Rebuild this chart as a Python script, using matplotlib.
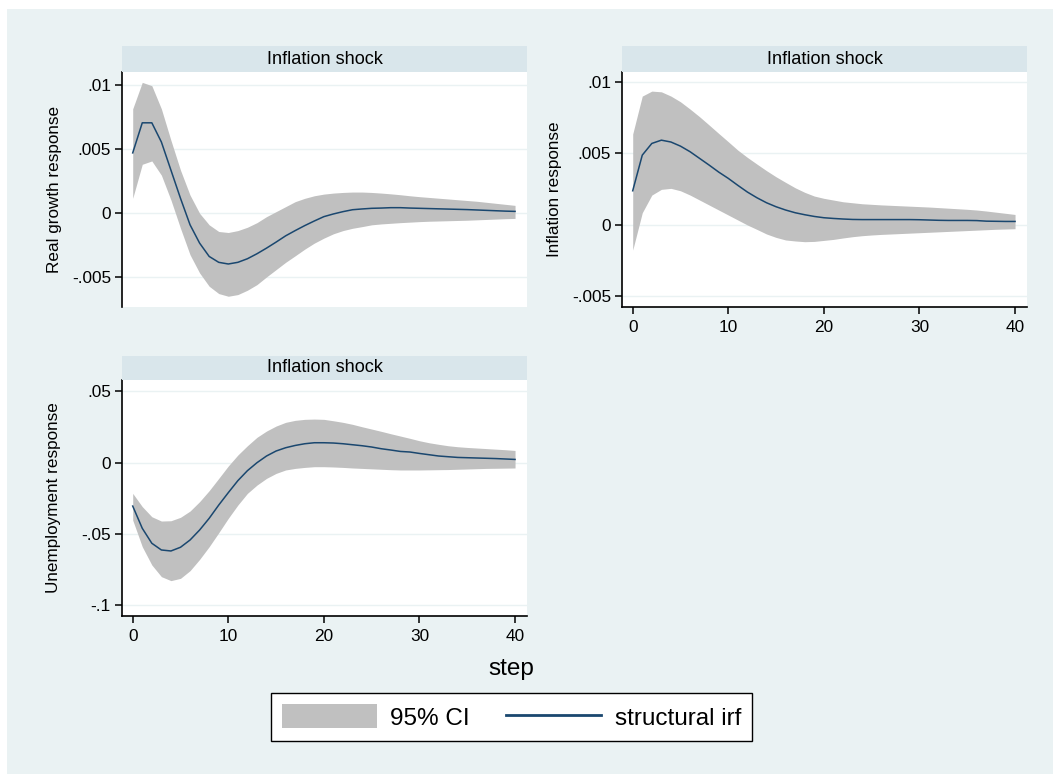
import matplotlib
matplotlib.use("Agg")
import matplotlib.pyplot as plt
from matplotlib.patches import Rectangle, Patch
from matplotlib.lines import Line2D
import numpy as np

plt.rcParams['font.family'] = ['Liberation Sans', 'DejaVu Sans']

# irf data (steps 0..40)
steps = list(range(41))

growth_irf = [0.00472, 0.00707, 0.00707, 0.00557, 0.00337, 0.00117, -0.00090, -0.00233, -0.00337, -0.00383,
              -0.00396, -0.00383, -0.00355, -0.00316, -0.00272, -0.00225, -0.00176, -0.00135, -0.00096, -0.00060,
              -0.00026, -0.00005, 0.00013, 0.00028, 0.00034, 0.00039, 0.00041, 0.00044, 0.00044, 0.00041,
              0.00039, 0.00037, 0.00035, 0.00033, 0.00031, 0.00029, 0.00026, 0.00023, 0.00020, 0.00017,
              0.00015]
growth_hi = [0.00816, 0.01023, 0.00997, 0.00816, 0.00570, 0.00337, 0.00142, 0.00000, -0.00090, -0.00142,
             -0.00150, -0.00135, -0.00109, -0.00073, -0.00026, 0.00013, 0.00052, 0.00091, 0.00117, 0.00137,
             0.00150, 0.00158, 0.00163, 0.00166, 0.00166, 0.00163, 0.00158, 0.00152, 0.00145, 0.00137,
             0.00130, 0.00124, 0.00118, 0.00112, 0.00106, 0.00100, 0.00094, 0.00086, 0.00078, 0.00070,
             0.00062]
growth_lo = [0.00117, 0.00383, 0.00409, 0.00298, 0.00104, -0.00117, -0.00324, -0.00466, -0.00570, -0.00627,
             -0.00648, -0.00635, -0.00601, -0.00557, -0.00497, -0.00440, -0.00383, -0.00332, -0.00280, -0.00233,
             -0.00194, -0.00160, -0.00135, -0.00117, -0.00104, -0.00090, -0.00083, -0.00078, -0.00073, -0.00069,
             -0.00065, -0.00062, -0.00060, -0.00058, -0.00056, -0.00054, -0.00051, -0.00048, -0.00045, -0.00042,
             -0.00040]

infl_irf = [0.00238, 0.00488, 0.00570, 0.00593, 0.00580, 0.00551, 0.00512, 0.00465, 0.00418, 0.00369,
            0.00325, 0.00276, 0.00229, 0.00189, 0.00154, 0.00126, 0.00103, 0.00084, 0.00070, 0.00058,
            0.00049, 0.00044, 0.00040, 0.00037, 0.00036, 0.00036, 0.00036, 0.00036, 0.00036, 0.00036,
            0.00035, 0.00033, 0.00031, 0.00030, 0.00030, 0.00030, 0.00029, 0.00025, 0.00024, 0.00023,
            0.00023]
infl_hi = [0.00636, 0.00902, 0.00937, 0.00932, 0.00902, 0.00862, 0.00811, 0.00757, 0.00699, 0.00640,
           0.00582, 0.00523, 0.00472, 0.00425, 0.00379, 0.00336, 0.00297, 0.00259, 0.00227, 0.00201,
           0.00185, 0.00173, 0.00161, 0.00154, 0.00147, 0.00143, 0.00139, 0.00136, 0.00133, 0.00130,
           0.00127, 0.00124, 0.00120, 0.00116, 0.00112, 0.00108, 0.00103, 0.00096, 0.00088, 0.00080,
           0.00072]
infl_lo = [-0.00178, 0.00084, 0.00208, 0.00248, 0.00255, 0.00238, 0.00208, 0.00173, 0.00138, 0.00103,
           0.00068, 0.00033, -0.00002, -0.00033, -0.00065, -0.00089, -0.00107, -0.00114, -0.00119, -0.00117,
           -0.00110, -0.00103, -0.00093, -0.00084, -0.00077, -0.00072, -0.00068, -0.00065, -0.00062, -0.00059,
           -0.00056, -0.00053, -0.00050, -0.00047, -0.00044, -0.00041, -0.00038, -0.00035, -0.00032, -0.00030,
           -0.00028]

unemp_irf = [-0.0304, -0.0460, -0.0565, -0.0612, -0.0619, -0.0593, -0.0542, -0.0472, -0.0390, -0.0297,
             -0.0210, -0.0126, -0.0056, 0.0000, 0.0047, 0.0082, 0.0105, 0.0121, 0.0133, 0.0140,
             0.0140, 0.0138, 0.0133, 0.0126, 0.0119, 0.0110, 0.0098, 0.0089, 0.0079, 0.0075,
             0.0065, 0.0056, 0.0047, 0.0042, 0.0037, 0.0035, 0.0033, 0.0031, 0.0029, 0.0026,
             0.0023]
unemp_hi = [-0.0215, -0.0308, -0.0379, -0.0409, -0.0407, -0.0383, -0.0339, -0.0273, -0.0196, -0.0110,
            -0.0023, 0.0054, 0.0119, 0.0178, 0.0222, 0.0257, 0.0283, 0.0297, 0.0304, 0.0306,
            0.0304, 0.0294, 0.0283, 0.0269, 0.0252, 0.0236, 0.0220, 0.0203, 0.0187, 0.0171,
            0.0154, 0.0140, 0.0129, 0.0119, 0.0112, 0.0107, 0.0103, 0.0099, 0.0095, 0.0091,
            0.0086]
unemp_lo = [-0.0402, -0.0589, -0.0717, -0.0799, -0.0827, -0.0811, -0.0757, -0.0678, -0.0589, -0.0491,
            -0.0390, -0.0297, -0.0215, -0.0157, -0.0110, -0.0075, -0.0051, -0.0040, -0.0033, -0.0028,
            -0.0028, -0.0030, -0.0033, -0.0037, -0.0040, -0.0043, -0.0046, -0.0049, -0.0051, -0.0051,
            -0.0051, -0.0050, -0.0049, -0.0048, -0.0046, -0.0044, -0.0042, -0.0040, -0.0039, -0.0038,
            -0.0037]

x_ticks = [0, 10, 20, 30, 40]
small_ticks = [-0.005, 0, 0.005, 0.01]
small_labels = ['-.005', '0', '.005', '.01']
unemp_ticks = [-0.1, -0.05, 0, 0.05]
unemp_labels = ['-.1', '-.05', '0', '.05']

BG = '#EAF2F3'
STRIP = '#D9E6EB'
BAND = '#C0C0C0'
LINE = '#1A476F'

W, H = 1053, 774
fig = plt.figure(figsize=(W / 100, H / 100), dpi=100)
fig.patch.set_facecolor('white')
fig.patches.append(Rectangle((7 / W, 0), 1, (H - 9) / H, transform=fig.transFigure,
                             facecolor=BG, edgecolor='none', zorder=-10))


def px_axes(l, t, r, b):
    return [l / W, 1 - b / H, (r - l) / W, (b - t) / H]


def panel(box, strip_top, lo, hi, irf, ylim, yticks, ylabels, ylabel, label_x, show_x):
    l, t, r, b = box
    ax = fig.add_axes(px_axes(l, t, r, b))
    ax.set_facecolor('white')
    ax.fill_between(steps, lo, hi, color=BAND, linewidth=0, zorder=2)
    ax.plot(steps, irf, color=LINE, linewidth=1.1, zorder=3)
    ax.set_xlim(-1.12, 41.25)
    ax.set_ylim(*ylim)
    ax.set_yticks(yticks)
    ax.set_yticklabels(ylabels)
    for v in yticks:
        ax.axhline(v, color=BG, linewidth=1.0, zorder=1)
    for s in ['top', 'right']:
        ax.spines[s].set_visible(False)
    ax.spines['left'].set_linewidth(1.2)
    ax.spines['bottom'].set_linewidth(1.2)
    ax.tick_params(axis='both', direction='out', length=5, width=1.1, labelsize=12.4, pad=3)
    if show_x:
        ax.set_xticks(x_ticks)
        ax.tick_params(axis='x', pad=4.5)
    else:
        ax.spines['bottom'].set_visible(False)
        ax.set_xticks([])
    # header strip
    sax = fig.add_axes(px_axes(l, strip_top, r, t))
    sax.set_facecolor(STRIP)
    sax.set_xticks([])
    sax.set_yticks([])
    for s in sax.spines.values():
        s.set_visible(False)
    sax.text(0.5, 0.5, 'Inflation shock', ha='center', va='center', fontsize=13.1,
             transform=sax.transAxes)
    fig.text(label_x / W, 1 - ((t + b) / 2) / H, ylabel, rotation=90, ha='center', va='center',
             fontsize=12.3)
    return ax


panel((122, 72, 527, 307), 46, growth_lo, growth_hi, growth_irf, (-0.00732, 0.01104),
      small_ticks, small_labels, 'Real growth response', 55, False)
panel((622, 72, 1027, 307), 46, infl_lo, infl_hi, infl_irf, (-0.00577, 0.01071),
      small_ticks, small_labels, 'Inflation response', 555, True)
panel((122, 380, 527, 616), 356, unemp_lo, unemp_hi, unemp_irf, (-0.1075, 0.058),
      unemp_ticks, unemp_labels, 'Unemployment response', 54, True)

fig.text(511.7 / W, 1 - 669 / H, 'step', ha='center', va='center', fontsize=17.5)

handles = [Patch(facecolor=BAND, edgecolor='none'),
           Line2D([0], [0], color=LINE, linewidth=2)]
leg = fig.legend(handles, ['95% CI', 'structural irf'], loc='center',
                 bbox_to_anchor=(511.5 / W, 1 - 717 / H), ncol=2, fontsize=17.5,
                 frameon=True, fancybox=False, edgecolor='black', facecolor='white',
                 framealpha=1, handlelength=3.9, handleheight=1.15, handletextpad=0.55,
                 columnspacing=1.5, borderpad=0.45, borderaxespad=0)
leg.get_frame().set_linewidth(1.0)

fig.savefig('out.png', dpi=100, facecolor=fig.get_facecolor())
